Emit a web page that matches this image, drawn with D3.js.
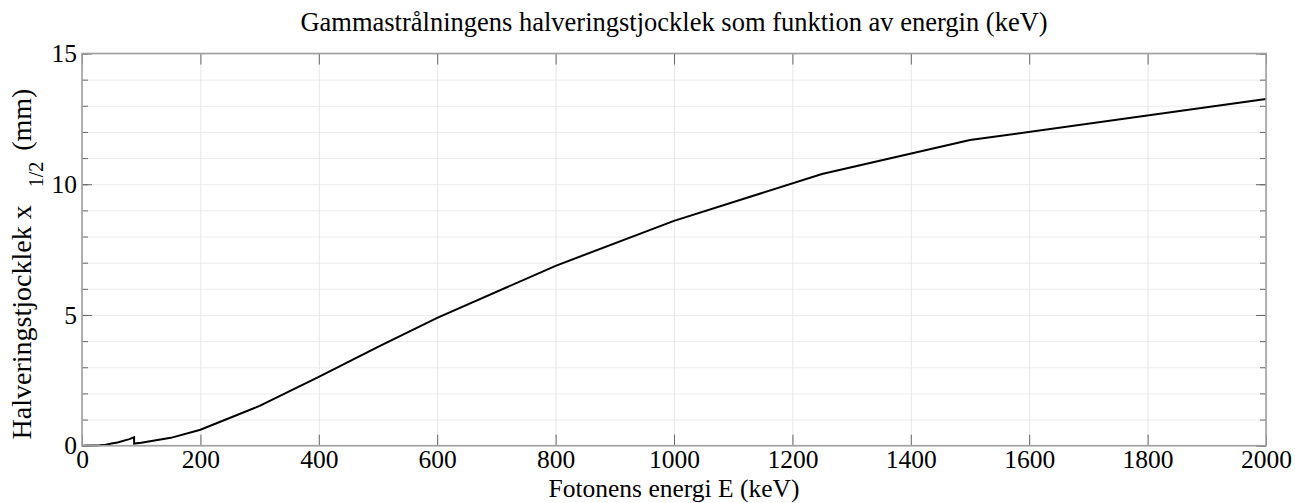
<!DOCTYPE html>
<html>
<head>
<meta charset="utf-8">
<script src="https://cdn.jsdelivr.net/npm/d3@7"></script>
<style>
  body { margin: 0; background: #fff; }
  text { font-family: "Liberation Serif", "Times New Roman", serif; fill: #000; }
</style>
</head>
<body>
<svg id="chart"></svg>
<script>
// photon energy (keV) and half-value thickness (mm)
const energy = [1, 10, 15, 20, 30, 40, 50, 60, 80, 88, 88, 100, 150, 200, 300, 400, 500, 600, 800, 1000, 1250, 1500, 2000];
const hvl = [0, 0.005, 0.006, 0.007, 0.02, 0.04, 0.08, 0.12, 0.25, 0.32, 0.08, 0.11, 0.30, 0.61, 1.52, 2.63, 3.78, 4.89, 6.88, 8.60, 10.39, 11.69, 13.26];

const xTicks = [0, 200, 400, 600, 800, 1000, 1200, 1400, 1600, 1800, 2000];
const yMajor = [0, 5, 10, 15];
const yMinor = d3.range(0, 16);

const title = 'Gammastrålningens halveringstjocklek som funktion av energin (keV)';
const xTitle = 'Fotonens energi E (keV)';

const W = 1295, H = 503;
const L = 82, R = 1266, T = 53.5, B = 445.7;

const svg = d3.select('#chart').attr('width', W).attr('height', H);

const x = d3.scaleLinear().domain([0, 2000]).range([L, R]);
const y = d3.scaleLinear().domain([0, 15]).range([B, T]);

// grid
svg.append('g')
  .attr('transform', `translate(${L},0)`)
  .call(d3.axisLeft(y).tickValues(yMinor).tickSize(-(R - L)).tickFormat(''))
  .call(g => g.select('.domain').remove())
  .call(g => g.selectAll('line').attr('stroke', '#ececec'));
svg.append('g')
  .attr('transform', `translate(0,${B})`)
  .call(d3.axisBottom(x).tickValues(xTicks).tickSize(-(B - T)).tickFormat(''))
  .call(g => g.select('.domain').remove())
  .call(g => g.selectAll('line').attr('stroke', '#e6e6e6'));

// curve
const pts = energy.map((e, i) => [e, hvl[i]]);
svg.append('path')
  .datum(pts)
  .attr('fill', 'none')
  .attr('stroke', '#000')
  .attr('stroke-width', 2)
  .attr('d', d3.line().x(d => x(d[0])).y(d => y(d[1])));

// ticks
const tickCol = '#666';
const fmt = d3.format('d');
const style = g => {
  g.select('.domain').remove();
  g.selectAll('line').attr('stroke', tickCol);
  g.selectAll('text').style('font-family', '"Liberation Serif", serif').style('font-size', '25.5px').attr('fill', '#000');
};
svg.append('g').attr('transform', `translate(0,${B})`)
  .call(d3.axisBottom(x).tickValues(xTicks).tickSize(-11).tickPadding(4).tickFormat(fmt)).call(style);
svg.append('g').attr('transform', `translate(0,${T})`)
  .call(d3.axisTop(x).tickValues(xTicks).tickSize(-11).tickFormat('')).call(style);
svg.append('g').attr('transform', `translate(${L},0)`)
  .call(d3.axisLeft(y).tickValues(yMinor).tickSize(-6).tickFormat('')).call(style);
svg.append('g').attr('transform', `translate(${L},0)`)
  .call(d3.axisLeft(y).tickValues(yMajor).tickSize(-10).tickPadding(5).tickFormat(fmt)).call(style);
svg.append('g').attr('transform', `translate(${R},0)`)
  .call(d3.axisRight(y).tickValues(yMinor).tickSize(-6).tickFormat('')).call(style);
svg.append('g').attr('transform', `translate(${R},0)`)
  .call(d3.axisRight(y).tickValues(yMajor).tickSize(-10).tickFormat('')).call(style);

// box
svg.append('rect')
  .attr('x', L).attr('y', T).attr('width', R - L).attr('height', B - T)
  .attr('fill', 'none').attr('stroke', '#a0a0a0').attr('stroke-width', 1.6);

// titles
svg.append('text')
  .attr('x', (L + R) / 2).attr('y', 31)
  .attr('text-anchor', 'middle')
  .style('font-size', '26.5px')
  .text(title);

svg.append('text')
  .attr('x', (L + R) / 2).attr('y', 497)
  .attr('text-anchor', 'middle')
  .style('font-size', '25.5px')
  .text(xTitle);

const yl = svg.append('text')
  .attr('transform', 'rotate(-90)')
  .attr('x', -264).attr('y', 31)
  .attr('text-anchor', 'middle')
  .style('font-size', '28px');
yl.append('tspan').text('Halveringstjocklek x');
yl.append('tspan').attr('dx', 18).attr('dy', 12).style('font-size', '20px').text('1/2');
yl.append('tspan').attr('dx', 11).attr('dy', -12).text('(mm)');
</script>
</body>
</html>
